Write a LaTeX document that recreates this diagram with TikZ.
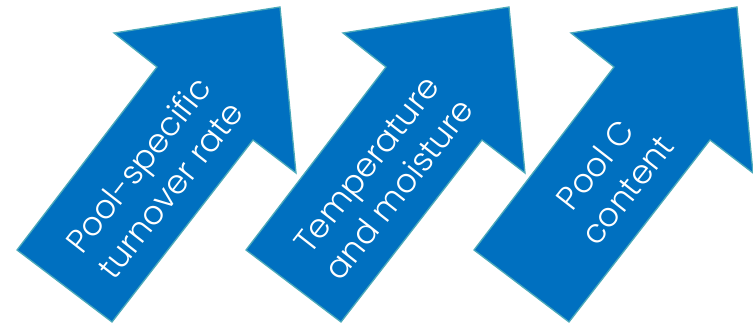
\documentclass[tikz,border=0pt]{standalone}
\usepackage{fontspec}
\setmainfont{Poppins}[UprightFont={* Light}]
\definecolor{arrowfill}{HTML}{0070C0}
\definecolor{arrowedge}{HTML}{4BA9BA}
\tikzset{
  bigarrow/.style={fill=arrowfill, draw=arrowedge, line width=1.3pt, line join=miter},
  arrowtext/.style={text=white, align=center, rotate=52, font=\fontsize{33}{41}\selectfont, inner sep=0pt}
}
\begin{document}
\begin{tikzpicture}[x=1pt,y=-1pt]
\useasboundingbox (0,0) rectangle (753,323);
\foreach \dx/\nm/\txt in {0/a/{Pool-specific\\turnover rate}, 229/b/{Temperature\\and moisture}, 457/c/{Pool C\\content}}{
  \begin{scope}[xshift=\dx pt]
    \draw[bigarrow] (17,250) -- (157,67) -- (114,33) -- (280,7) -- (296,173) -- (253,140) -- (112,322) -- cycle;
    \node[arrowtext] (\nm) at (154,177) {\txt};
  \end{scope}
}
\end{tikzpicture}
\end{document}
